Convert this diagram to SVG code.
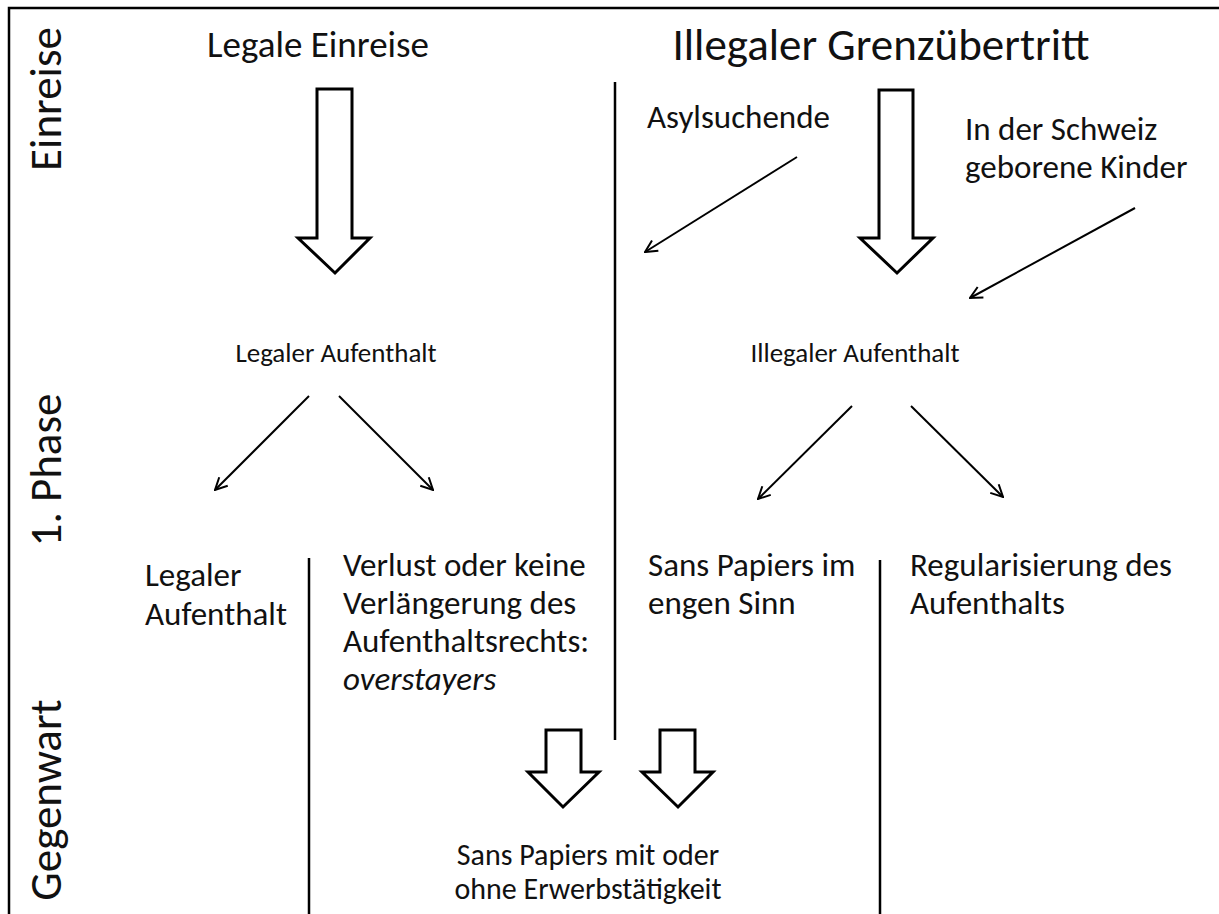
<svg xmlns="http://www.w3.org/2000/svg" width="1219" height="914" viewBox="0 0 1219 914">
<defs>
<marker id="ah" viewBox="0 0 14 14" refX="13" refY="7" markerWidth="14" markerHeight="14" markerUnits="userSpaceOnUse" orient="auto">
<path d="M1,1 L13,7 L1,13" fill="none" stroke="#000" stroke-width="2"/>
</marker>
<style>
text{font-family:Carlito,Lato,"Open Sans",sans-serif;fill:#111}
.side{font-size:45px}
.title{font-size:37px}
.title2{font-size:45px}
.lab{font-size:33px}
.mid{font-size:27px}
.bot{font-size:30px}
.big{fill:#fff;stroke:#000;stroke-width:3;stroke-linejoin:miter}
.rule{stroke:#000;stroke-width:2.5;fill:none}
.thin{stroke:#000;stroke-width:2;fill:none;marker-end:url(#ah)}
</style>
</defs>
<rect width="1219" height="914" fill="#fff"/>
<g id="frame">
<path class="rule" d="M9,914 V8 H1219"/>
<line class="rule" x1="615" y1="82" x2="615" y2="740"/>
<line class="rule" x1="309" y1="558" x2="309" y2="914"/>
<line class="rule" x1="880" y1="560" x2="880" y2="914"/>
</g>
<g id="phase-labels">
<text class="side" transform="translate(61,99) rotate(-90)" text-anchor="middle">Einreise</text>
<text class="side" transform="translate(61,470) rotate(-90)" text-anchor="middle">1. Phase</text>
<text class="side" transform="translate(61,800) rotate(-90)" text-anchor="middle">Gegenwart</text>
</g>
<g id="legale-einreise"><text class="title" x="318" y="57" text-anchor="middle">Legale Einreise</text></g>
<g id="illegaler-grenzuebertritt"><text class="title2" x="881" y="60" text-anchor="middle">Illegaler Grenzübertritt</text></g>
<g id="asylsuchende"><text class="lab" x="647" y="128">Asylsuchende</text></g>
<g id="kinder"><text class="lab" x="965" y="140">In der Schweiz</text><text class="lab" x="965" y="178">geborene Kinder</text></g>
<g id="legaler-aufenthalt"><text class="mid" x="336" y="362" text-anchor="middle">Legaler Aufenthalt</text></g>
<g id="illegaler-aufenthalt"><text class="mid" x="855" y="362" text-anchor="middle">Illegaler Aufenthalt</text></g>
<g id="legaler-aufenthalt-2"><text class="lab" x="145" y="586">Legaler</text><text class="lab" x="145" y="625">Aufenthalt</text></g>
<g id="overstayers"><text class="lab" x="343" y="576">Verlust oder keine</text><text class="lab" x="343" y="614">Verlängerung des</text><text class="lab" x="343" y="652">Aufenthaltsrechts:</text><text class="lab" x="343" y="690" font-style="italic">overstayers</text></g>
<g id="sans-papiers"><text class="lab" x="648" y="576">Sans Papiers im</text><text class="lab" x="648" y="614">engen Sinn</text></g>
<g id="regularisierung"><text class="lab" x="910" y="576">Regularisierung des</text><text class="lab" x="910" y="614">Aufenthalts</text></g>
<g id="sans-papiers-gegenwart"><text class="bot" x="588" y="865" text-anchor="middle">Sans Papiers mit oder</text><text class="bot" x="588" y="899" text-anchor="middle">ohne Erwerbstätigkeit</text></g>
<g id="connectors">
<path class="big" d="M317,89 H352 V238 H370 L335,273 L298,238 H317 Z"/>
<path class="big" d="M879,90 H913 V238 H933 L897,273 L860,238 H879 Z"/>
<path class="big" d="M546,730 H581 V772 H599 L563,807 L528,772 H546 Z"/>
<path class="big" d="M660,730 H695 V772 H713 L678,807 L642,772 H660 Z"/>
<line class="thin" x1="797" y1="157" x2="645" y2="252"/>
<line class="thin" x1="1135" y1="208" x2="970" y2="298"/>
<line class="thin" x1="309" y1="396" x2="215" y2="490"/>
<line class="thin" x1="339" y1="396" x2="433" y2="490"/>
<line class="thin" x1="852" y1="406" x2="758" y2="499"/>
<line class="thin" x1="911" y1="406" x2="1003" y2="497"/>
</g>
</svg>
